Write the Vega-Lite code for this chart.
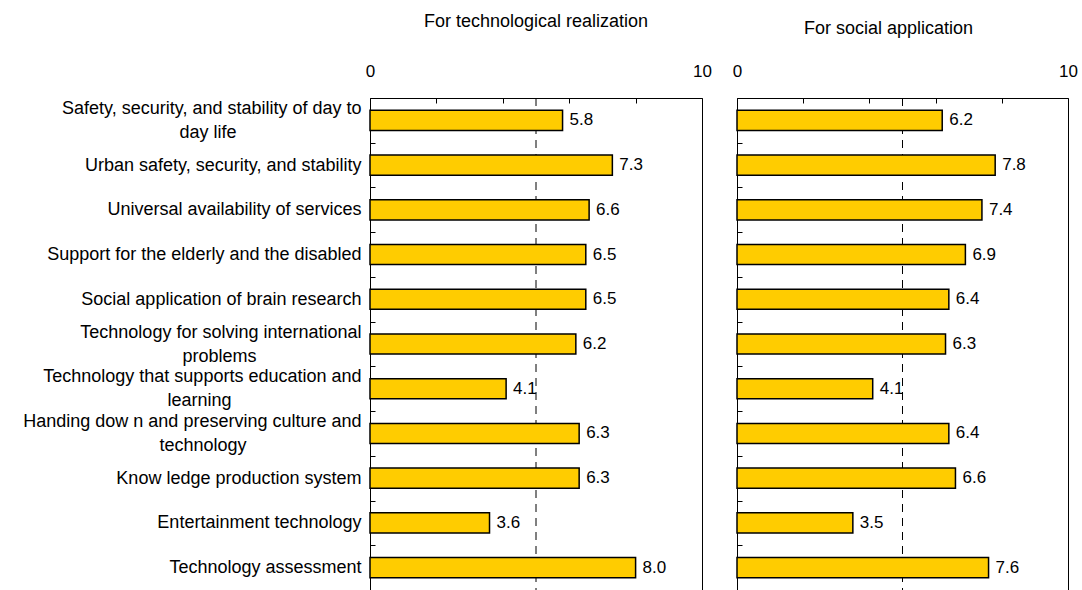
{
  "$schema": "https://vega.github.io/schema/vega-lite/v6.json",
  "padding": {"left": 22, "top": 12, "right": 0, "bottom": 0},
  "background": "white",
  "config": {
    "font": "Liberation Sans",
    "view": {"stroke": "black", "strokeWidth": 1},
    "axis": {"labelColor": "black", "tickColor": "black", "domain": false, "grid": false, "title": null}
  },
  "data": {
    "values": [
      {"item": "Safety, security, and stability of day to|day life\u00a0\u00a0\u00a0\u00a0\u00a0\u00a0\u00a0\u00a0\u00a0\u00a0\u00a0\u00a0\u00a0\u00a0\u00a0\u00a0\u00a0\u00a0\u00a0\u00a0\u00a0\u00a0\u00a0\u00a0\u00a0\u200b", "tech": 5.8, "social": 6.2},
      {"item": "Urban safety, security, and stability", "tech": 7.3, "social": 7.8},
      {"item": "Universal availability of services", "tech": 6.6, "social": 7.4},
      {"item": "Support for the elderly and the disabled", "tech": 6.5, "social": 6.9},
      {"item": "Social application of brain research", "tech": 6.5, "social": 6.4},
      {"item": "Technology for solving international|problems\u00a0\u00a0\u00a0\u00a0\u00a0\u00a0\u00a0\u00a0\u00a0\u00a0\u00a0\u00a0\u00a0\u00a0\u00a0\u00a0\u00a0\u00a0\u00a0\u00a0\u00a0\u200b", "tech": 6.2, "social": 6.3},
      {"item": "Technology that supports education and|learning\u00a0\u00a0\u00a0\u00a0\u00a0\u00a0\u00a0\u00a0\u00a0\u00a0\u00a0\u00a0\u00a0\u00a0\u00a0\u00a0\u00a0\u00a0\u00a0\u00a0\u00a0\u00a0\u00a0\u00a0\u00a0\u00a0\u200b", "tech": 4.1, "social": 4.1},
      {"item": "Handing dow n and preserving culture and|technology\u00a0\u00a0\u00a0\u00a0\u00a0\u00a0\u00a0\u00a0\u00a0\u00a0\u00a0\u00a0\u00a0\u00a0\u00a0\u00a0\u00a0\u00a0\u00a0\u00a0\u00a0\u00a0\u00a0\u200b", "tech": 6.3, "social": 6.4},
      {"item": "Know ledge production system", "tech": 6.3, "social": 6.6},
      {"item": "Entertainment technology", "tech": 3.6, "social": 3.5},
      {"item": "Technology assessment", "tech": 8.0, "social": 7.6}
    ]
  },
  "spacing": 19,
  "hconcat": [
    {
      "width": 332,
      "height": 492,
      "title": {"text": "For technological realization", "fontSize": 18, "fontWeight": "normal", "color": "black", "offset": 31},
      "layer": [
        {
          "data": {"values": [{}]},
          "mark": {"type": "rule", "strokeDash": [8, 6], "color": "black", "strokeWidth": 1},
          "encoding": {"x": {"datum": 5, "type": "quantitative", "scale": {"domain": [0, 10], "nice": false}}}
        },
        {
          "mark": {"type": "bar", "color": "#FFCC00", "stroke": "black", "strokeWidth": 1.5, "height": {"band": 0.45}},
          "encoding": {
            "y": {"field": "item", "type": "nominal", "sort": null,
              "scale": {"paddingInner": 0, "paddingOuter": 0},
              "axis": {"labelExpr": "indexof(datum.label, '|') >= 0 ? [split(datum.label, '|')[0], '\u200b', split(datum.label, '|')[1]] : ['\u200b', datum.label]", "labelFontSize": 18, "labelLineHeight": 12, "labelOffset": -12, "labelPadding": 14, "tickBand": "extent", "tickSize": -5, "labelLimit": 400, "labelBaseline": "middle"}},
            "x": {"field": "tech", "type": "quantitative", "scale": {"domain": [0, 10], "nice": false},
              "axis": {"orient": "top", "values": [0, 1, 2, 3, 4, 5, 6, 7, 8, 9, 10], "labelExpr": "datum.value % 5 == 0 ? datum.label : ''", "labelFontSize": 17, "labelFlush": false, "tickSize": -5, "labelPadding": 23}}
          }
        },
        {
          "mark": {"type": "text", "align": "left", "baseline": "middle", "dx": 7, "fontSize": 17, "color": "black"},
          "encoding": {
            "y": {"field": "item", "type": "nominal", "sort": null},
            "x": {"field": "tech", "type": "quantitative"},
            "text": {"field": "tech", "type": "quantitative", "format": ".1f"}
          }
        }
      ]
    },
    {
      "width": 331,
      "height": 492,
      "title": {"text": "For social application", "fontSize": 18, "fontWeight": "normal", "color": "black", "offset": 31, "dx": -14, "dy": 7},
      "layer": [
        {
          "data": {"values": [{}]},
          "mark": {"type": "rule", "strokeDash": [8, 6], "color": "black", "strokeWidth": 1},
          "encoding": {"x": {"datum": 5, "type": "quantitative", "scale": {"domain": [0, 10], "nice": false}}}
        },
        {
          "mark": {"type": "bar", "color": "#FFCC00", "stroke": "black", "strokeWidth": 1.5, "height": {"band": 0.45}},
          "encoding": {
            "y": {"field": "item", "type": "nominal", "sort": null,
              "scale": {"paddingInner": 0, "paddingOuter": 0},
              "axis": {"labels": false, "tickBand": "extent", "tickSize": -5}},
            "x": {"field": "social", "type": "quantitative", "scale": {"domain": [0, 10], "nice": false},
              "axis": {"orient": "top", "values": [0, 1, 2, 3, 4, 5, 6, 7, 8, 9, 10], "labelExpr": "datum.value % 5 == 0 ? datum.label : ''", "labelFontSize": 17, "labelFlush": false, "tickSize": -5, "labelPadding": 23}}
          }
        },
        {
          "mark": {"type": "text", "align": "left", "baseline": "middle", "dx": 7, "fontSize": 17, "color": "black"},
          "encoding": {
            "y": {"field": "item", "type": "nominal", "sort": null},
            "x": {"field": "social", "type": "quantitative"},
            "text": {"field": "social", "type": "quantitative", "format": ".1f"}
          }
        }
      ]
    }
  ]
}
